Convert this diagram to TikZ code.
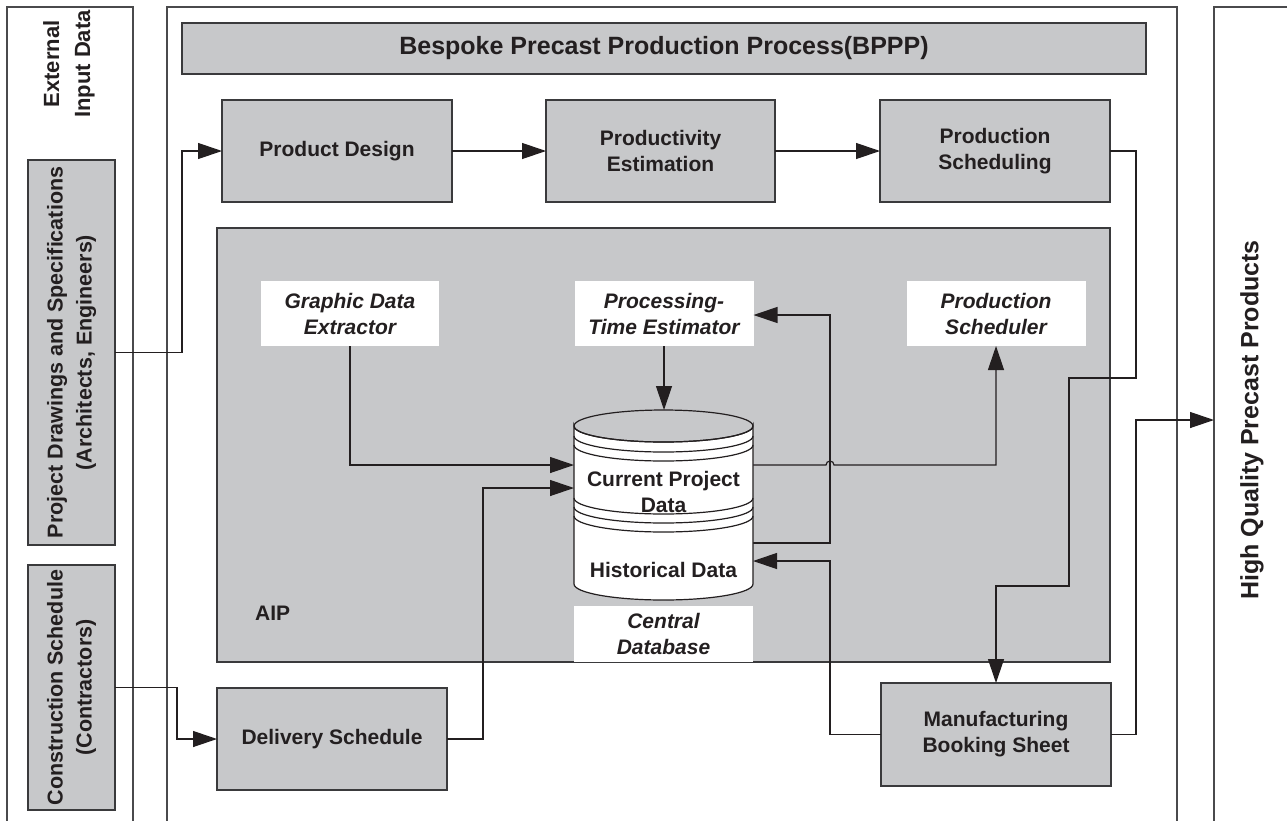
\documentclass[tikz,border=0pt]{standalone}
\usepackage{fontspec}
\setmainfont{Liberation Sans}
\usetikzlibrary{arrows.meta}
\definecolor{boxgray}{HTML}{C7C8CA}
\definecolor{ink}{HTML}{231F20}
\definecolor{boxline}{HTML}{3A3A3C}
\definecolor{panelline}{HTML}{4A4A4C}
\tikzset{
  gbox/.style={draw=boxline, line width=1.4pt, fill=boxgray, inner sep=0pt, outer sep=0pt,
    align=center, text=ink, font=\bfseries\fontsize{21}{26}\selectfont},
  wbox/.style={fill=white, inner sep=0pt, outer sep=0pt, align=center, text=ink,
    font=\bfseries\itshape\fontsize{21}{26}\selectfont},
  conn/.style={draw=ink, line width=1.2pt},
  arr/.style={conn, -{Triangle[length=24pt,width=16pt]}},
  panel/.style={draw=panelline, line width=1.1pt},
  lbl/.style={inner sep=0pt, align=center, text=ink, font=\bfseries\fontsize{21}{26}\selectfont},
}
\begin{document}
\begin{tikzpicture}[x=1pt,y=-1pt]
\useasboundingbox (0,0) rectangle (1287,820);
\fill[white] (0,0) rectangle (1287,820);

% panels
\draw[panel] (7,825) -- (7,7) -- (133,7) -- (133,825);
\draw[panel] (167,825) -- (167,7) -- (1177,7) -- (1177,825);
\draw[panel] (1214,825) -- (1214,7) -- (1295,7);

% left panel
\node[lbl, rotate=90, font=\bfseries\fontsize{22}{31}\selectfont] (ext) at (69,64) {External\\Input Data};
\node[gbox, rotate=90, minimum width=385, minimum height=87, font=\bfseries\fontsize{21.5}{29}\selectfont] (pdspec) at (71.5,352.5)
  {Project Drawings and Specifications\\(Architects, Engineers)};
\node[gbox, rotate=90, minimum width=245, minimum height=87, font=\bfseries\fontsize{21.5}{29}\selectfont] (cs) at (71.5,687.5)
  {Construction Schedule\\(Contractors)};

% right panel
\node[lbl, rotate=90, font=\bfseries\fontsize{25}{30}\selectfont] (hq) at (1252,420) {High Quality Precast Products};
\coordinate (hqin) at (1214,420);

% title and process boxes
\node[gbox, font=\bfseries\fontsize{25}{30}\selectfont, minimum width=964, minimum height=51] (title) at (664,48.5)
  {Bespoke Precast Production Process(BPPP)};
\node[gbox, minimum width=230, minimum height=102] (pd) at (337,151) {Product Design};
\node[gbox, minimum width=229, minimum height=102] (pe) at (660.5,151) {Productivity\\Estimation};
\node[gbox, minimum width=230, minimum height=102] (ps) at (995,151) {Production\\Scheduling};

% AIP
\node[gbox, minimum width=893, minimum height=434] (aip) at (663.5,445) {};
\node[lbl, anchor=west] (aiplbl) at (255,613) {AIP};

\node[wbox, minimum width=178, minimum height=65] (gde) at (350,313.5) {Graphic Data\\Extractor};
\node[wbox, minimum width=179, minimum height=65] (pte) at (664,313.5) {Processing-\\Time Estimator};
\node[wbox, minimum width=179, minimum height=65] (psr) at (996,313.5) {Production\\Scheduler};
\node[wbox, minimum width=179, minimum height=56] (cdb) at (663.5,634) {Central\\Database};

% bottom boxes
\node[gbox, minimum width=230, minimum height=102] (ds) at (332,739) {Delivery Schedule};
\node[gbox, minimum width=230, minimum height=103] (mbs) at (996,734.5) {Manufacturing\\Booking Sheet};

% database anchor points
\coordinate (dbtop) at (664,410);
\coordinate (dbinA) at (574,465);
\coordinate (dbinB) at (574,488);
\coordinate (dboutA) at (753,465);
\coordinate (dboutB) at (753,543);
\coordinate (dbinC) at (753,561);
\coordinate (pteR) at (pte.east |- 0,315);

% connectors
\draw[arr] (pdspec.south) -- ++(67,0) |- (pd.west);
\draw[arr] (cs.south) -- ++(62,0) |- (ds.west);
\draw[arr] (pd.east) -- (pe.west);
\draw[arr] (pe.east) -- (ps.west);
\draw[arr] (ps.east) -- (1136,151) -- (1136,378) -- (1069,378) -- (1069,586) -| (mbs.north);
\draw[arr] (mbs.east) -- (1136,734.5) -- (1136,420) -- (hqin);
\draw[arr] (gde.south) |- (dbinA);
\draw[arr] (ds.east) -- (483,739) |- (dbinB);
\draw[arr] (pte.south) -- (dbtop);
\draw[arr] (dboutB) -| (830,315) -- (pteR);
\draw[arr] (dboutA) -- (826,465) arc[start angle=180, end angle=360, radius=4] -| (psr.south);
\draw[arr] (mbs.west) -- (830,734.5) |- (dbinC);

% database cylinder
\begin{scope}[draw=ink, line width=1.2pt]
\filldraw[fill=white] (574,426) -- (574,584) arc[start angle=180, end angle=0, x radius=89.5, y radius=16]
  -- (753,426) arc[start angle=0, end angle=180, x radius=89.5, y radius=16] -- cycle;
\draw (663.5,426) ellipse[x radius=89.5, y radius=16];
\foreach \yy in {436,445,498,507,516}
  \draw (574,\yy) arc[start angle=180, end angle=0, x radius=89.5, y radius=16];
\end{scope}
\node[lbl] (dbcur) at (663.5,492) {Current Project\\Data};
\node[lbl] (dbhist) at (663.5,570) {Historical Data};
\end{tikzpicture}
\end{document}
